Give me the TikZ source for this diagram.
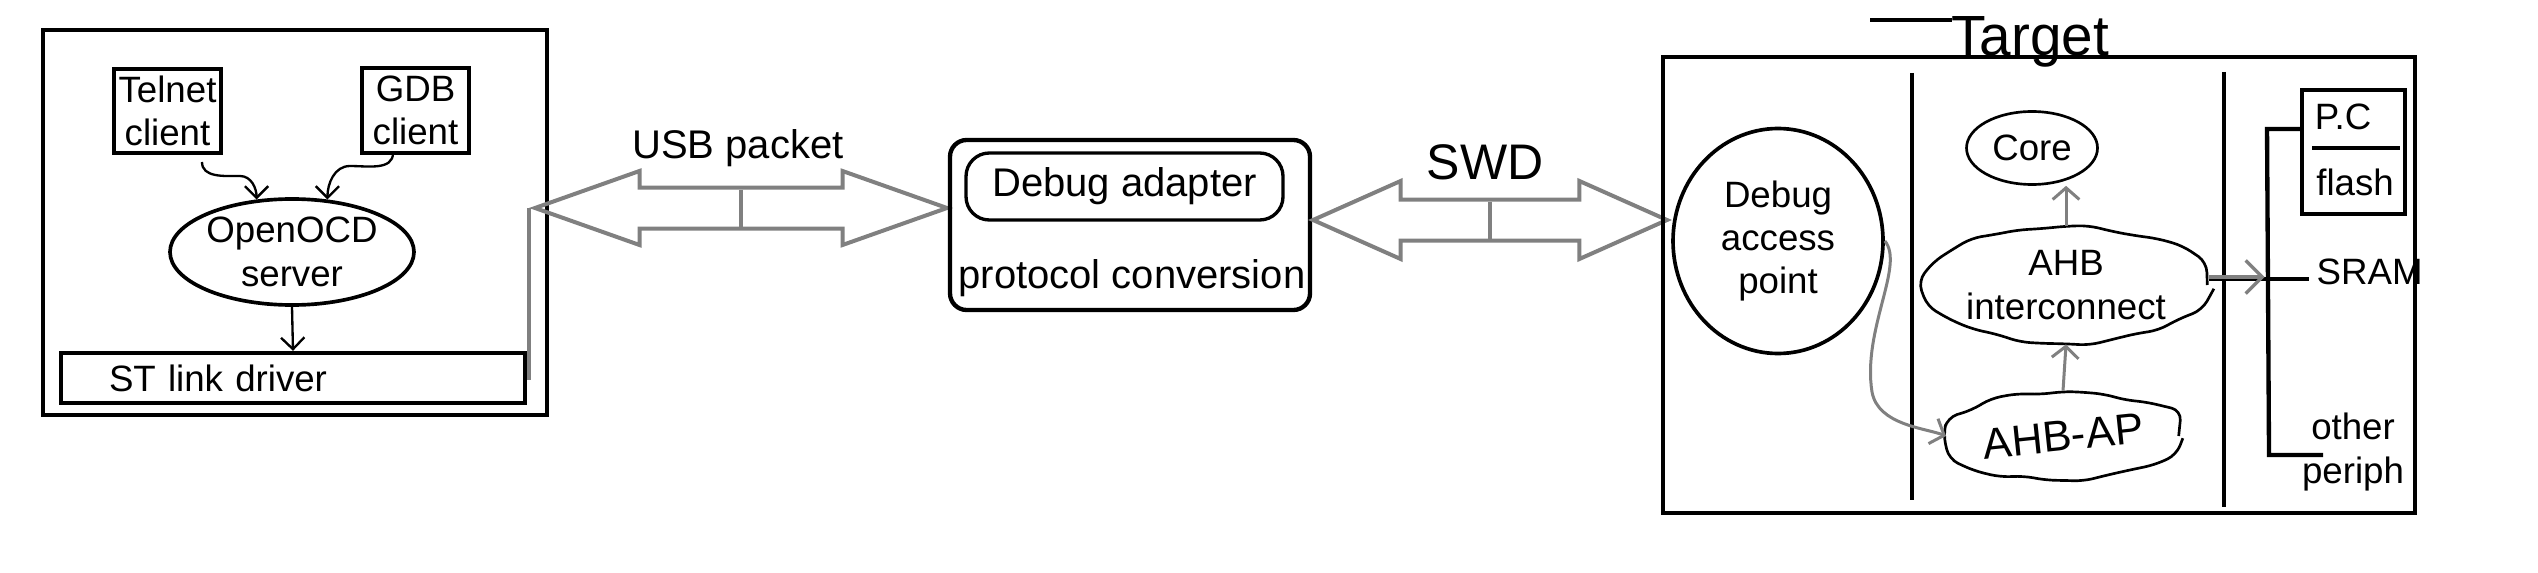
\documentclass[tikz,border=0pt]{standalone}
\usepackage{fontspec}
\setmainfont{Liberation Sans}
\usetikzlibrary{shapes.geometric,shapes.arrows,arrows.meta,decorations.pathmorphing}
\begin{document}
\begin{tikzpicture}[x=0.3pt,y=-0.3pt,
  font=\fontsize{11}{13}\selectfont,
  thickbox/.style={draw, line width=1.3pt, inner sep=0pt, align=center},
  oval/.style={draw, ellipse, line width=1.1pt, inner sep=0pt, align=center},
  blob/.style={draw, ellipse, line width=0.8pt, inner sep=0pt, align=center,
     decorate, decoration={random steps, segment length=7pt, amplitude=0.9pt}, rounded corners=3pt},
  harrow/.style={line width=0.7pt, -{Straight Barb[length=3.5pt,width=7pt]}},
  garrow/.style={draw=gray, line width=0.9pt, -{Straight Barb[length=3.5pt,width=8pt]}},
  gline/.style={draw=gray, line width=1.2pt},
  dblarrow/.style={double arrow, draw=gray, line width=1.2pt, inner xsep=0pt,
     minimum width=0pt},
  bus/.style={line width=1.3pt},
  big/.style={font=\fontsize{12}{14}\selectfont}
]
\pgfmathsetseed{7}
\useasboundingbox (0,0) rectangle (2538,572);

% ---------- host side ----------
\node[thickbox, minimum width=151.2pt, minimum height=115.5pt] (host) at (295,222.5) {};
\node[thickbox, minimum width=32.1pt, minimum height=25.2pt] (telnet) at (167.5,111) {Telnet\\client};
\node[thickbox, minimum width=32.1pt, minimum height=25.5pt] (gdb) at (415.5,110.5) {GDB\\client};
\node[oval, minimum width=73.2pt, minimum height=31.8pt] (openocd) at (292,252) {OpenOCD\\server};
\node[draw, line width=1.3pt, minimum width=139.2pt, minimum height=15pt, inner xsep=14.4pt,
      inner ysep=0pt, text width=110.4pt, align=left] (stlink) at (293,378) {ST link driver};

\coordinate (tstart) at (202,162);
\coordinate (gstart) at (393,153);
\draw[harrow] (tstart) to[out=-90,in=180] (240,176) to[out=0,in=90] (openocd.124);
\draw[harrow] (gstart) to[out=-90,in=0] (350,166) to[out=180,in=90] (openocd.56);
\draw[harrow] (openocd.south) -- (stlink.north);

% ---------- USB link ----------
\node[dblarrow, minimum height=123.6pt, inner ysep=5.55pt, double arrow head extend=4.95pt,
      double arrow tip angle=39] (usb) at (741,208) {};
\draw[gline] ([yshift=5.55pt]usb.center) -- ([yshift=-5.55pt]usb.center);
\draw[gline] (stlink.east) -| (usb.west);
\node[big] (usbtxt) at (738,148) {USB packet};

% ---------- debug adapter ----------
\node[draw, line width=1.3pt, rounded corners=5pt, minimum width=108pt, minimum height=51pt] (adapter) at (1130,225) {};
\node[draw, line width=1pt, rounded corners=7pt, minimum width=95.1pt, minimum height=20.1pt, big] (dbgad) at (1124.5,186.5) {Debug adapter};
\node[big] (proto) at (1132,278) {protocol conversion};

% ---------- SWD link ----------
\node[dblarrow, minimum height=106.2pt, inner ysep=5.55pt, double arrow head extend=5.55pt,
      double arrow tip angle=48] (swd) at (1490,220) {};
\draw[gline] ([yshift=5.55pt]swd.center) -- ([yshift=-5.55pt]swd.center);
\node[font=\fontsize{15}{17}\selectfont] (swdtxt) at (1485,162) {SWD};

% ---------- target ----------
\node[thickbox, minimum width=225.6pt, minimum height=136.8pt] (target) at (2039,285) {};
\node[font=\fontsize{17}{19}\selectfont, anchor=base, inner sep=0pt] (tgt) at (2030,56) {Target};
\draw[line width=1pt] (1870,20) -- (1952,20);

\coordinate (v1t) at (1912,73);
\coordinate (v1b) at (1912,500);
\coordinate (v2t) at (2224,72);
\coordinate (v2b) at (2224,507);
\draw[bus] (v1t) -- (v1b);
\draw[bus] (v2t) -- (v2b);

\node[oval, minimum width=63pt, minimum height=67.5pt] (dap) at (1778,241)
  {Debug\\access\\point};
\node[draw, ellipse, line width=0.8pt, inner sep=0pt, minimum width=39.3pt, minimum height=21.9pt] (core) at (2032,148) {Core};
\node[blob, minimum width=68.4pt, minimum height=34.8pt] (ahbic) at (2066,285)
  {AHB\\interconnect};
\node[blob, minimum width=68.4pt, minimum height=26.4pt, font=\fontsize{13}{15}\selectfont] (ahbap) at (2063,436)
  {\rotatebox{6}{AHB-AP}};

\draw[garrow] (ahbap.north) -- (ahbic.south);
\draw[garrow] (ahbic.north) -- (ahbic.north |- core.south);
\draw[garrow] (dap.east) .. controls (1905,265) and (1862,330) .. (1872,392)
   .. controls (1878,425) and (1925,428) .. (ahbap.west);

% ---------- memory bus ----------
\node[thickbox, minimum width=30.9pt, minimum height=37.2pt] (pcflash) at (2353.5,152) {};
\node (pctxt) at (2343,117) {P.C};
\node (flashtxt) at (2355,182) {flash};
\draw[line width=1pt] (2312,148) -- (2400,148);
\node[anchor=west, inner sep=0pt] (sram) at (2316,272) {SRAM};
\node[align=center, inner sep=0pt] (periph) at (2353,452) {other\\periph};

\coordinate (btop) at (2267,129);
\coordinate (bmid) at (2268,279);
\coordinate (bbot) at (2269,455);
\coordinate (pend) at (2323,455);
\draw[bus] (pcflash.west |- btop) -- (btop) -- (bbot) -- (pend);
\draw[bus] (bmid) -- ([xshift=-2pt]sram.west |- bmid);
\draw[bus] (ahbic.east |- bmid) -- (bmid);
\draw[draw=gray, line width=1pt, -{Straight Barb[length=5pt,width=10pt]}] ([yshift=0.6pt]ahbic.east |- bmid) -- ([xshift=-1pt,yshift=0.6pt]bmid);
\end{tikzpicture}
\end{document}
